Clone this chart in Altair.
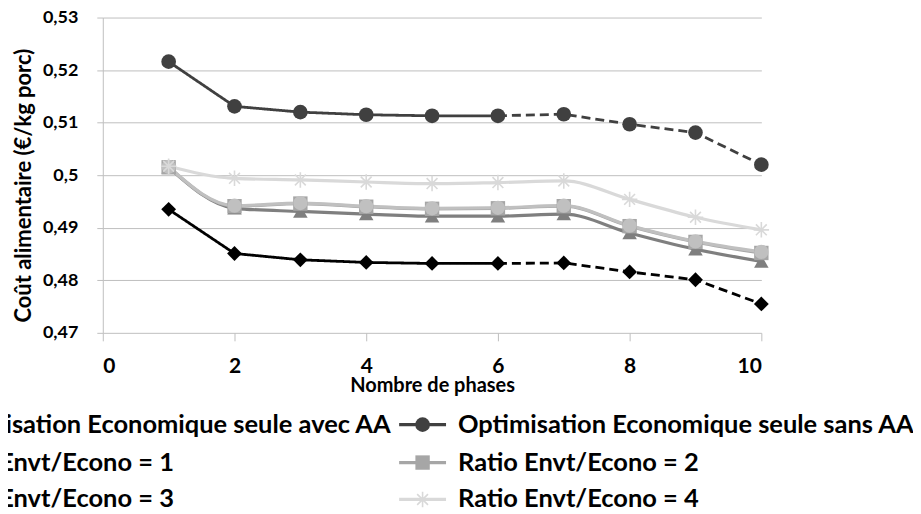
import altair as alt
import pandas as pd

# ---- data ----
phases = [1, 2, 3, 4, 5, 6, 7, 8, 9, 10]
series_names = [
    "Optimisation Economique seule avec AA",
    "Optimisation Economique seule sans AA",
    "Ratio Envt/Econo = 1",
    "Ratio Envt/Econo = 2",
    "Ratio Envt/Econo = 3",
    "Ratio Envt/Econo = 4",
]
avec_aa = [0.4935, 0.4851, 0.4839, 0.4834, 0.4832, 0.4832, 0.4833, 0.4816, 0.4801, 0.4755]
sans_aa = [0.5216, 0.5131, 0.5120, 0.5115, 0.5113, 0.5113, 0.5116, 0.5097, 0.5081, 0.5020]
ratio_1 = [0.5015, 0.4937, 0.4931, 0.4926, 0.4922, 0.4922, 0.4926, 0.4890, 0.4859, 0.4836]
ratio_2 = [0.5015, 0.4941, 0.4946, 0.4940, 0.4936, 0.4937, 0.4941, 0.4903, 0.4873, 0.4852]
ratio_3 = [0.5016, 0.4942, 0.4947, 0.4941, 0.4937, 0.4938, 0.4942, 0.4904, 0.4874, 0.4854]
ratio_4 = [0.5017, 0.4994, 0.4991, 0.4987, 0.4984, 0.4986, 0.4989, 0.4954, 0.4920, 0.4896]
x_ticks = [0, 2, 4, 6, 8, 10]
y_ticks = [0.47, 0.48, 0.49, 0.50, 0.51, 0.52, 0.53]
x_title = "Nombre de phases"
y_title = "Coût alimentaire (€/kg porc)"

series_values = [avec_aa, sans_aa, ratio_1, ratio_2, ratio_3, ratio_4]

# ---- styles ----
series_colors = ["#000000", "#404040", "#7f7f7f", "#a6a6a6", "#c0c0c0", "#d9d9d9"]
ASTERISK = "M-1,0L1,0M0,-1L0,1M-0.7,-0.7L0.7,0.7M-0.7,0.7L0.7,-0.7"
series_shapes = ["diamond", "circle", "triangle-up", "square", "circle", ASTERISK]
series_sizes = [220, 200, 160, 160, 140, 240]
dash_from = 6
FONT = "Lato"

points = []
lines = []
for i, (name, vals) in enumerate(zip(series_names, series_values)):
    for p, v in zip(phases, vals):
        points.append({"series": name, "phase": p, "value": v, "idx": i,
                       "star": name == series_names[5]})
        if i < 2:
            if p <= dash_from:
                lines.append({"series": name, "phase": p, "value": v, "style": "solid", "key": name + "|s", "smooth": False})
            if p >= dash_from:
                lines.append({"series": name, "phase": p, "value": v, "style": "dash", "key": name + "|d", "smooth": False})
        else:
            lines.append({"series": name, "phase": p, "value": v, "style": "solid", "key": name + "|s", "smooth": True})
pts_df = pd.DataFrame(points)
lines_df = pd.DataFrame(lines)

color_scale = alt.Scale(domain=series_names, range=series_colors)
shape_scale = alt.Scale(domain=series_names, range=series_shapes)
size_scale = alt.Scale(domain=series_names, range=series_sizes)
dash_scale = alt.Scale(domain=["solid", "dash"], range=[[1, 0], [9, 5]])

X = alt.X("phase:Q", scale=alt.Scale(domain=[0, 10], nice=False),
          axis=alt.Axis(values=x_ticks, title=x_title, grid=False, tickSize=8,
                        labelPadding=26, labelBaseline="middle", labelFontSize=21,
                        titleFontSize=20, titleY=53, titleBaseline="middle",
                        domain=False))
Y = alt.Y("value:Q", scale=alt.Scale(domain=[0.47, 0.53], nice=False, zero=False),
          axis=alt.Axis(values=y_ticks, title=y_title, grid=True, tickSize=6,
                        labelPadding=19, labelFontSize=18,
                        labelExpr="replace(toString(round(datum.value*100)/100), '.', ',')",
                        titleFontSize=22, titleAngle=270, titleX=-79, titleY=168,
                        titleAlign="center", titleBaseline="middle"))
C = alt.Color("series:N", scale=color_scale, legend=None)

line_straight = alt.Chart(lines_df).transform_filter("!datum.smooth").mark_line(strokeWidth=2.8).encode(
    x=X, y=Y, color=C, detail="key:N",
    strokeDash=alt.StrokeDash("style:N", scale=dash_scale, legend=None))
line_smooth = alt.Chart(lines_df).transform_filter("datum.smooth").mark_line(
    strokeWidth=3.2, interpolate="monotone").encode(
    x=X, y=Y, color=C, detail="key:N")

pts_filled = alt.Chart(pts_df).transform_filter("!datum.star").mark_point(
    filled=True, opacity=1).encode(
    x=X, y=Y, color=C,
    shape=alt.Shape("series:N", scale=shape_scale, legend=None),
    size=alt.Size("series:N", scale=size_scale, legend=None),
    order=alt.Order("idx:Q"))
pts_star = alt.Chart(pts_df).transform_filter("datum.star").mark_point(
    filled=False, opacity=1, strokeWidth=1.6, shape=ASTERISK, size=240).encode(
    x=X, y=Y, color=C)

# ---- hand-made legend (2 columns, left column runs off the left edge) ----
col_step = 526
leg = []
for i, name in enumerate(series_names):
    col, row = i % 2, i // 2
    shift = -col_step * (1 - col)
    leg.append({"series": name, "x1": 297 + shift, "x2": 344 + shift,
                "xm": 320.5 + shift, "xt": 356 + shift, "y": [408, 446, 483][row],
                "star": i == 5})
leg_df = pd.DataFrame(leg)
LX = alt.X("x1:Q", scale=None, axis=None)
LY = alt.Y("y:Q", scale=None, axis=None)

leg_rule = alt.Chart(leg_df).mark_rule(strokeWidth=3.2).encode(
    x=LX, x2="x2:Q", y=LY, color=C)
leg_pts = alt.Chart(leg_df).transform_filter("!datum.star").mark_point(filled=True, opacity=1).encode(
    x=alt.X("xm:Q", scale=None, axis=None), y=LY, color=C,
    shape=alt.Shape("series:N", scale=shape_scale, legend=None),
    size=alt.Size("series:N", scale=size_scale, legend=None))
leg_star = alt.Chart(leg_df).transform_filter("datum.star").mark_point(
    filled=False, opacity=1, strokeWidth=1.6, shape=ASTERISK, size=240).encode(
    x=alt.X("xm:Q", scale=None, axis=None), y=LY, color=C)
leg_text = alt.Chart(leg_df).mark_text(
    align="left", baseline="middle", font=FONT, fontWeight="bold", fontSize=25.5,
    color="#000000").encode(
    x=alt.X("xt:Q", scale=None, axis=None), y=LY, text="series:N")

chart = alt.layer(
    line_straight, line_smooth, pts_filled, pts_star,
    leg_rule, leg_pts, leg_star, leg_text
).properties(
    width=660, height=316,
    autosize=alt.AutoSizeParams(type="none"),
    padding={"left": 95, "top": 9, "right": 152, "bottom": 179},
    background="white",
).configure_view(stroke=None).configure_axis(
    labelFont=FONT, titleFont=FONT, labelFontWeight="bold", titleFontWeight="bold",
    labelColor="#000000", titleColor="#000000",
    gridColor="#bfbfbf", gridWidth=1, domainColor="#bfbfbf", tickColor="#bfbfbf",
)

chart.save("out.html", embed_options={"renderer": "svg", "actions": False})
